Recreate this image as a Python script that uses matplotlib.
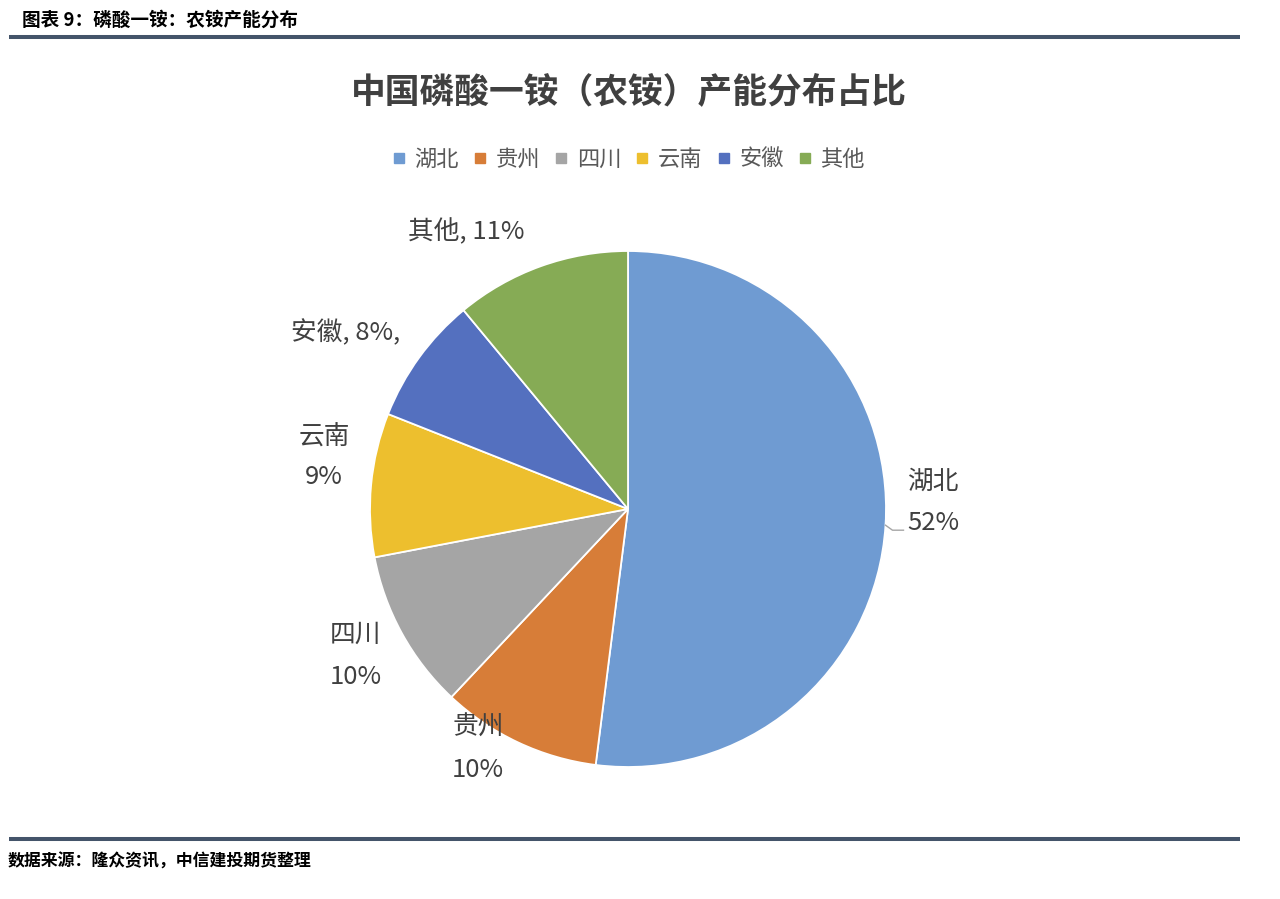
import matplotlib
matplotlib.use('Agg')
import matplotlib.pyplot as plt
import numpy as np
from matplotlib.lines import Line2D

# ---- data ----
categories = ['湖北', '贵州', '四川', '云南', '安徽', '其他']
shares = [52, 10, 10, 9, 8, 11]
pct_labels = ['52%', '10%', '10%', '9%', '8%', '11%']
colors = ['#6F9BD2', '#D77D38', '#A5A5A5', '#EDBF2E', '#5470BF', '#86AB55']
title = '中国磷酸一铵（农铵）产能分布占比'
header = '图表 9：磷酸一铵：农铵产能分布'
footer = '数据来源：隆众资讯，中信建投期货整理'

plt.rcParams['font.family'] = ['Noto Sans CJK SC', 'DejaVu Sans']

W, H = 1280, 899
fig = plt.figure(figsize=(12.8, 8.99), dpi=100)
ax = fig.add_axes([0, 0, 1, 1])


def Y(y):
    return H - y


cx, cy, R = 628, Y(509), 258
wedges, _ = ax.pie(shares, colors=colors, startangle=90, counterclock=False,
                   center=(cx, cy), radius=R,
                   wedgeprops=dict(edgecolor='white', linewidth=1.3))
ax.set_xlim(0, W)
ax.set_ylim(0, H)
ax.set_aspect('auto')
ax.axis('off')

txtc = '#404040'
lfs = 18.5
# label layout: (x center, y line1, y line2 or None)
layout = [
    (933, 482, 523),
    (478, 728, 770),
    (356, 635, 677),
    (324, 438, 477),
    (346, 333, None),
    (466, 232, None),
]
for (name, pct, (lx, y1, y2)) in zip(categories, pct_labels, layout):
    if y2 is not None:
        ax.text(lx, Y(y1), name, ha='center', va='center', fontsize=lfs, color=txtc)
        ax.text(lx, Y(y2), pct, ha='center', va='center', fontsize=lfs, color=txtc)
    else:
        s = f'{name}, {pct},' if name == '安徽' else f'{name}, {pct}'
        ax.text(lx, Y(y1), s, ha='center', va='center', fontsize=lfs, color=txtc)

# leader line for the largest slice
w0 = wedges[0]
mid = np.deg2rad((w0.theta1 + w0.theta2) / 2)
ex, ey = cx + R * np.cos(mid), cy + R * np.sin(mid)
ax.plot([ex, ex + 7, ex + 18], [ey, ey - 5, ey - 5], color='#A6A6A6', lw=1.0)

# title
ax.text(629, Y(92), title, ha='center', va='center', fontsize=25,
        fontweight='bold', color=txtc)

# legend
handles = [Line2D([], [], marker='s', linestyle='none', markersize=7.2,
                  markerfacecolor=c, markeredgecolor=c) for c in colors]
leg = ax.legend(handles, categories, loc='center', ncol=6,
                bbox_to_anchor=(628 / W, 1 - 159 / H),
                bbox_transform=fig.transFigure, frameon=False,
                fontsize=16, handlelength=0.7, handletextpad=0.35,
                columnspacing=0.6, borderpad=0)
for t in leg.get_texts():
    t.set_color('#595959')

# header / footer
ax.text(22, Y(20), header, ha='left', va='center', fontsize=13.4,
        fontweight='bold', color='black')
ax.plot([9, 1240], [Y(37), Y(37)], color='#44546A', lw=2.9, solid_capstyle='butt')
ax.plot([9, 1240], [Y(839), Y(839)], color='#44546A', lw=2.9, solid_capstyle='butt')
ax.text(8, Y(862), footer, ha='left', va='center', fontsize=12.2,
        fontweight='bold', color='black')

fig.savefig('out.png', dpi=100)
